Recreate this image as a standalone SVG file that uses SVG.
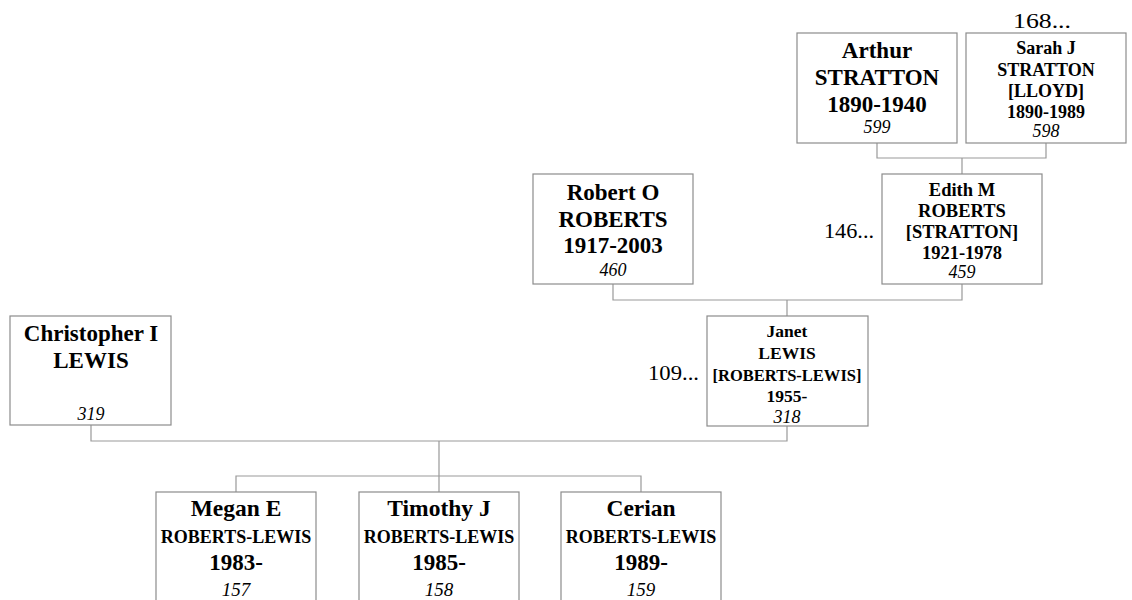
<svg xmlns="http://www.w3.org/2000/svg" width="1132" height="600" viewBox="0 0 1132 600">
<style>
rect.box{fill:#fff;stroke:#8c8c8c;stroke-width:1.2}
.c{fill:none;stroke:#999;stroke-width:1.2}
text{font-family:"Liberation Serif","Times New Roman",serif;fill:#000;text-anchor:middle}
.b{font-weight:bold}
.n{font-style:italic}
.lbl{text-anchor:start;font-size:20px}
</style>
<rect width="1132" height="600" fill="#fff"/>
<g id="connectors">
<path class="c" d="M877,143 V158 H1046 V143 M962,158 V174"/>
<path class="c" d="M613,284 V300 H962 V284 M787,300 V316"/>
<path class="c" d="M91,425 V441 H787 V425 M439,441 V492"/>
<path class="c" d="M236,492 V476 H641 V492"/>
</g>
<g id="arthur">
<rect class="box" x="797" y="33" width="160" height="110"/>
<text class="b" x="877" y="58" font-size="23">Arthur</text>
<text class="b" x="877" y="85" font-size="23">STRATTON</text>
<text class="b" x="877" y="112" font-size="23">1890-1940</text>
<text class="n" x="877" y="133" font-size="18">599</text>
</g>
<g id="sarah">
<text class="lbl" x="1013" y="28" textLength="58" lengthAdjust="spacingAndGlyphs">168...</text>
<rect class="box" x="966" y="33" width="160" height="110"/>
<text class="b" x="1046" y="54" font-size="18">Sarah J</text>
<text class="b" x="1046" y="76" font-size="18">STRATTON</text>
<text class="b" x="1046" y="97" font-size="18">[LLOYD]</text>
<text class="b" x="1046" y="118" font-size="18">1890-1989</text>
<text class="n" x="1046" y="137" font-size="18">598</text>
</g>
<g id="robert">
<rect class="box" x="533" y="174" width="160" height="110"/>
<text class="b" x="613" y="200" font-size="23">Robert O</text>
<text class="b" x="613" y="227" font-size="23">ROBERTS</text>
<text class="b" x="613" y="253" font-size="23">1917-2003</text>
<text class="n" x="613" y="276" font-size="18">460</text>
</g>
<g id="edith">
<text class="lbl" x="824" y="238" font-size="19" textLength="50" lengthAdjust="spacingAndGlyphs">146...</text>
<rect class="box" x="882" y="174" width="160" height="110"/>
<text class="b" x="962" y="196" font-size="18.5">Edith M</text>
<text class="b" x="962" y="217" font-size="18.5">ROBERTS</text>
<text class="b" x="962" y="238" font-size="18.5">[STRATTON]</text>
<text class="b" x="962" y="259" font-size="18.5">1921-1978</text>
<text class="n" x="962" y="278" font-size="18">459</text>
</g>
<g id="christopher">
<rect class="box" x="10" y="316" width="161" height="109"/>
<text class="b" x="91" y="341" font-size="23">Christopher I</text>
<text class="b" x="91" y="368" font-size="23">LEWIS</text>
<text class="n" x="91" y="420" font-size="18">319</text>
</g>
<g id="janet">
<text class="lbl" x="648" y="380" font-size="19" textLength="51" lengthAdjust="spacingAndGlyphs">109...</text>
<rect class="box" x="707" y="316" width="161" height="110"/>
<text class="b" x="787" y="337" font-size="17.5">Janet</text>
<text class="b" x="787" y="359" font-size="17.5">LEWIS</text>
<text class="b" x="787" y="381" font-size="17.5" textLength="149" lengthAdjust="spacingAndGlyphs">[ROBERTS-LEWIS]</text>
<text class="b" x="787" y="402" font-size="17.5">1955-</text>
<text class="n" x="787" y="423" font-size="18">318</text>
</g>
<g id="megan">
<rect class="box" x="156" y="492" width="160" height="112"/>
<text class="b" x="236" y="516" font-size="23.5">Megan E</text>
<text class="b" x="236" y="543" font-size="18">ROBERTS-LEWIS</text>
<text class="b" x="236" y="570" font-size="23">1983-</text>
<text class="n" x="236" y="596" font-size="19">157</text>
</g>
<g id="timothy">
<rect class="box" x="359" y="492" width="160" height="112"/>
<text class="b" x="439" y="516" font-size="23.5">Timothy J</text>
<text class="b" x="439" y="543" font-size="18">ROBERTS-LEWIS</text>
<text class="b" x="439" y="570" font-size="23">1985-</text>
<text class="n" x="439" y="596" font-size="19">158</text>
</g>
<g id="cerian">
<rect class="box" x="561" y="492" width="160" height="112"/>
<text class="b" x="641" y="516" font-size="23.5">Cerian</text>
<text class="b" x="641" y="543" font-size="18">ROBERTS-LEWIS</text>
<text class="b" x="641" y="570" font-size="23">1989-</text>
<text class="n" x="641" y="596" font-size="19">159</text>
</g>
</svg>
